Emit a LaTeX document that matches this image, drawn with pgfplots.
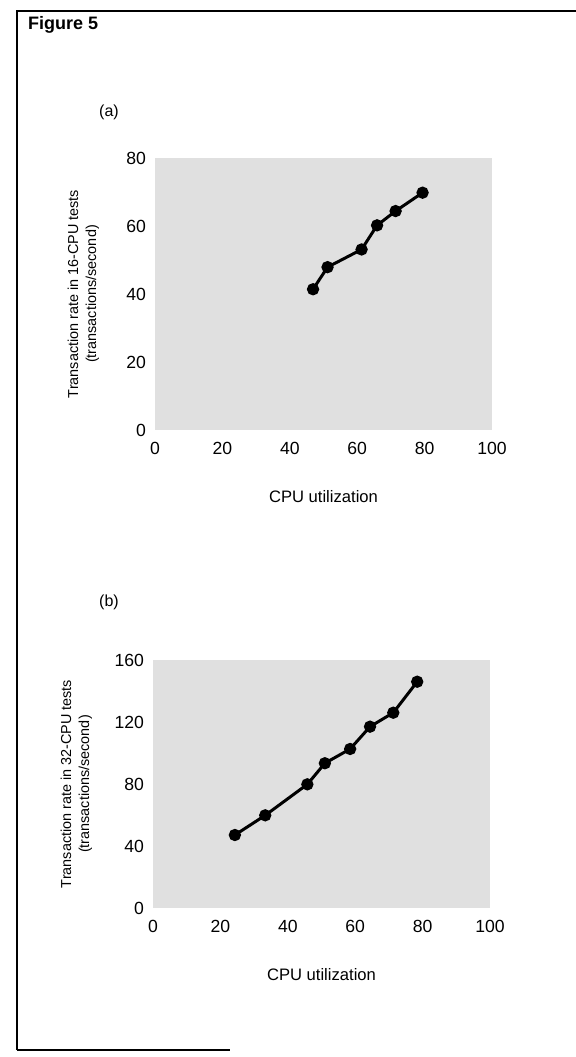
\documentclass[border=0pt]{standalone}
\usepackage{fontspec}
\setmainfont{Liberation Sans}
\usepackage{pgfplots}
\pgfplotsset{compat=1.18}
\pgfplotsset{
  myax/.style={
    scale only axis,
    width=168.5pt,
    xmin=0, xmax=100, ymin=0,
    xtick={0,20,...,100},
    axis background/.style={fill=black!12},
    axis line style={draw=none},
    major tick length=0pt,
    /pgf/number format/assume math mode=true,
    tick label style={font=\fontsize{8.8}{10}\selectfont},
    xticklabel style={yshift=-2.5pt},
    yticklabel style={xshift=-1pt},
    xlabel style={font=\fontsize{8.3}{9.5}\selectfont, at={(axis description cs:0.5,0)}, anchor=center, yshift=-33.5pt},
    ylabel style={font=\fontsize{7.2}{9}\selectfont, align=center, anchor=center, at={(axis description cs:0,0.5)}},
    clip=false,
  },
  myline/.style={black, line width=1.5pt, mark=*, mark size=2.3pt, mark options={solid, fill=black}},
}
\begin{document}
\begin{tikzpicture}
\begin{scope}[x=0.5pt,y=-0.5pt]
\path[use as bounding box] (0,0) rectangle (576,1057);
\draw[line width=0.9pt] (17,1050) -- (17,11) -- (576,11);
\draw[line width=0.9pt] (17,1050) -- (230,1050);
\node[font=\bfseries\fontsize{9}{10}\selectfont, anchor=west] at (21,25) {Figure 5};
\node[font=\fontsize{8}{9}\selectfont] at (109,112) {(a)};
\node[font=\fontsize{8}{9}\selectfont] at (109,602) {(b)};
\end{scope}

\begin{axis}[myax,
  at={(77.5pt,-215pt)}, anchor=south west,
  height=136pt,
  ymax=80, ytick={0,20,...,80},
  xlabel={CPU utilization},
  ylabel={Transaction rate in 16-CPU tests\\(transactions/second)},
  ylabel style={yshift=35.75pt},
]
\addplot[myline] coordinates {
(46.9,41.4) (51.2,47.9) (61.3,53.1) (65.9,60.2) (71.4,64.4) (79.4,69.8)
};
\end{axis}

\begin{axis}[myax,
  at={(76.5pt,-454pt)}, anchor=south west,
  height=124pt,
  ymax=160, ytick={0,40,...,160},
  xlabel={CPU utilization},
  ylabel={Transaction rate in 32-CPU tests\\(transactions/second)},
  ylabel style={yshift=38.25pt},
]
\addplot[myline] coordinates {
(24.3,47.1) (33.3,59.8) (45.8,79.8) (51.0,93.4) (58.5,102.6) (64.4,117) (71.3,126) (78.4,146)
};
\end{axis}
\end{tikzpicture}
\end{document}
